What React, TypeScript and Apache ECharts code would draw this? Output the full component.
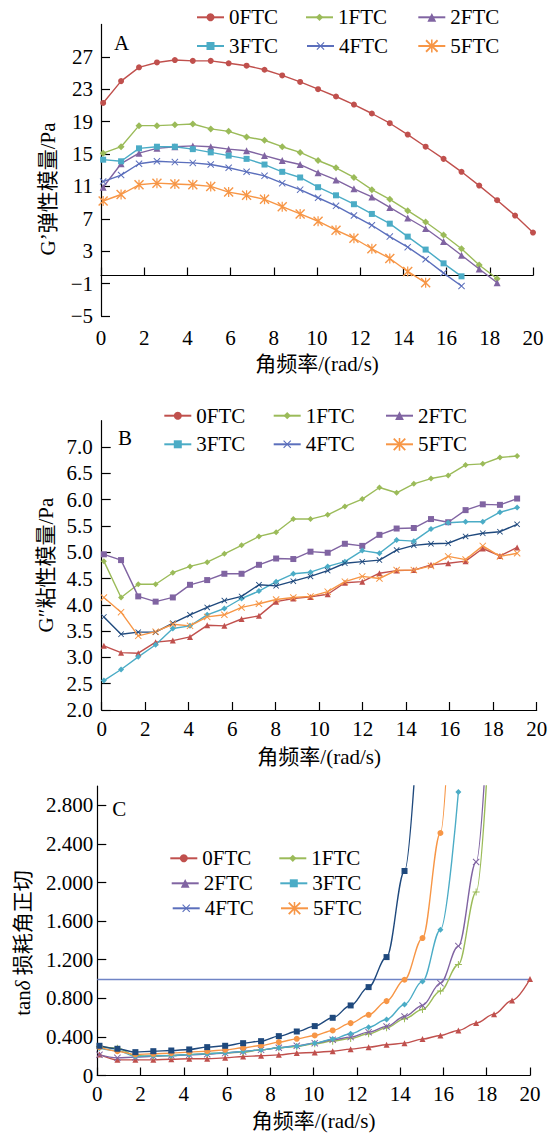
import React, { useEffect, useRef } from 'react';
import * as echarts from 'echarts';

// ---------- data ----------
// angular frequency (rad/s) for panels A and C
const FREQ_AC = [0.1, 0.93, 1.76, 2.59, 3.42, 4.25, 5.08, 5.91, 6.74, 7.57, 8.39, 9.22, 10.05, 10.88, 11.71, 12.54, 13.37, 14.2, 15.03, 15.86, 16.69, 17.51, 18.34, 19.17, 20.0];
// angular frequency (rad/s) for panel B
const FREQ_B = [0.1, 0.89, 1.68, 2.48, 3.27, 4.06, 4.85, 5.64, 6.43, 7.23, 8.02, 8.81, 9.6, 10.39, 11.18, 11.98, 12.77, 13.56, 14.35, 15.14, 15.93, 16.73, 17.52, 18.31, 19.1];

const NAMES = ['0FTC', '1FTC', '2FTC', '3FTC', '4FTC', '5FTC'];

// Panel A: G' elastic modulus (Pa)
const A_0FTC = [21.3, 24.0, 25.7, 26.3, 26.6, 26.5, 26.5, 26.2, 25.9, 25.4, 24.7, 23.9, 23.0, 22.1, 21.1, 20.0, 18.8, 17.4, 15.9, 14.4, 12.8, 11.1, 9.3, 7.4, 5.3];
const A_1FTC = [15.1, 15.9, 18.5, 18.5, 18.6, 18.7, 18.1, 17.8, 17.1, 16.7, 15.9, 15.2, 14.2, 13.3, 12.1, 10.6, 9.4, 8.0, 6.6, 5.0, 3.3, 1.3, -0.4];
const A_2FTC = [10.9, 13.8, 15.1, 15.7, 15.9, 16.0, 15.9, 15.6, 15.4, 14.8, 14.2, 13.7, 12.7, 11.8, 10.7, 9.7, 8.4, 7.1, 5.8, 4.2, 2.5, 0.8, -0.9];
const A_3FTC = [14.3, 14.1, 15.7, 15.9, 15.9, 15.6, 15.2, 14.8, 14.4, 13.7, 12.8, 12.1, 10.9, 9.9, 8.8, 7.6, 6.4, 4.8, 3.2, 1.5, -0.1];
const A_4FTC = [11.6, 12.4, 13.8, 14.1, 14.0, 13.9, 13.7, 13.3, 12.8, 12.3, 11.4, 10.6, 9.6, 8.6, 7.4, 6.2, 4.8, 3.5, 2.0, 0.3, -1.3];
const A_5FTC = [9.2, 10.0, 11.2, 11.4, 11.3, 11.2, 11.0, 10.3, 9.9, 9.4, 8.5, 7.6, 6.7, 5.6, 4.6, 3.3, 2.1, 0.5, -0.9];

// Panel B: G'' viscous modulus (Pa)
const B_0FTC = [3.22, 3.09, 3.08, 3.29, 3.32, 3.39, 3.61, 3.6, 3.73, 3.79, 4.06, 4.12, 4.15, 4.2, 4.42, 4.44, 4.6, 4.65, 4.66, 4.76, 4.79, 4.83, 5.07, 4.93, 5.09];
const B_1FTC = [4.83, 4.14, 4.39, 4.39, 4.61, 4.73, 4.81, 4.97, 5.13, 5.3, 5.38, 5.63, 5.63, 5.71, 5.87, 6.01, 6.23, 6.13, 6.3, 6.4, 6.46, 6.66, 6.68, 6.8, 6.83];
const B_2FTC = [4.96, 4.85, 4.16, 4.06, 4.14, 4.38, 4.47, 4.59, 4.59, 4.76, 4.88, 4.87, 5.01, 4.99, 5.16, 5.12, 5.33, 5.45, 5.46, 5.63, 5.57, 5.8, 5.91, 5.9, 6.02];
const B_3FTC = [2.56, 2.77, 3.01, 3.24, 3.55, 3.6, 3.81, 3.93, 4.12, 4.26, 4.44, 4.59, 4.62, 4.73, 4.82, 5.03, 4.98, 5.23, 5.21, 5.44, 5.56, 5.58, 5.58, 5.76, 5.85];
const B_4FTC = [3.77, 3.44, 3.48, 3.48, 3.65, 3.81, 3.95, 4.08, 4.16, 4.38, 4.36, 4.45, 4.54, 4.65, 4.79, 4.82, 4.85, 5.04, 5.13, 5.16, 5.17, 5.3, 5.36, 5.39, 5.53];
const B_5FTC = [4.14, 3.86, 3.41, 3.49, 3.63, 3.6, 3.77, 3.81, 3.95, 4.02, 4.1, 4.14, 4.16, 4.25, 4.44, 4.54, 4.5, 4.66, 4.66, 4.74, 4.92, 4.86, 5.12, 4.92, 4.98];

// Panel C: tan delta (last values of the steep curves lie above the plot top)
const C_RED = [0.218, 0.162, 0.162, 0.162, 0.169, 0.173, 0.173, 0.183, 0.197, 0.204, 0.214, 0.232, 0.239, 0.252, 0.273, 0.294, 0.318, 0.335, 0.377, 0.415, 0.467, 0.543, 0.636, 0.778, 1.0];
const C_NAVY = [0.308, 0.277, 0.242, 0.252, 0.259, 0.27, 0.294, 0.308, 0.335, 0.356, 0.408, 0.456, 0.512, 0.598, 0.726, 0.916, 1.227, 2.119, 4.5];
const C_ORANGE = [0.294, 0.252, 0.218, 0.225, 0.232, 0.242, 0.252, 0.266, 0.287, 0.311, 0.346, 0.38, 0.415, 0.467, 0.543, 0.629, 0.771, 0.992, 1.424, 2.513, 6.0];
const C_LBLUE = [0.283, 0.259, 0.197, 0.204, 0.207, 0.218, 0.225, 0.235, 0.249, 0.266, 0.287, 0.304, 0.335, 0.377, 0.432, 0.501, 0.581, 0.736, 0.975, 1.511, 2.938];
const C_PURPLE = [0.214, 0.183, 0.19, 0.2, 0.207, 0.214, 0.221, 0.232, 0.249, 0.266, 0.287, 0.308, 0.335, 0.37, 0.398, 0.449, 0.508, 0.612, 0.726, 0.957, 1.341, 2.212, 5.0];
const C_GREEN = [0.301, 0.283, 0.207, 0.2, 0.207, 0.218, 0.225, 0.235, 0.242, 0.266, 0.287, 0.301, 0.328, 0.356, 0.384, 0.432, 0.494, 0.588, 0.684, 0.875, 1.151, 1.901, 4.5];
const C_REF = 1.0;

// ---------- styles ----------
const FONT = 'Liberation Serif, Times New Roman, Noto Sans CJK SC, serif';
const RED = '#c0504d';
const GREEN = '#9bbb59';
const PURPLE = '#8064a2';
const LBLUE = '#4bacc6';
const BLUE = '#5b6fbc';
const ORANGE = '#f79646';
const NAVY = '#1f497d';
const REFLINE = '#6f84c5';

const X_SYM = 'path://M1,0 L5,4 L9,0 L10,1 L6,5 L10,9 L9,10 L5,6 L1,10 L0,9 L4,5 L0,1 Z';
const STAR_SYM = 'path://M1,0 L5,4 L9,0 L10,1 L6,5 L10,9 L9,10 L5,6 L1,10 L0,9 L4,5 L0,1 Z M4.4,0 L5.6,0 L5.6,10 L4.4,10 Z';
const PLUS_SYM = 'path://M4.3,0 L5.7,0 L5.7,4.3 L10,4.3 L10,5.7 L5.7,5.7 L5.7,10 L4.3,10 L4.3,5.7 L0,5.7 L0,4.3 L4.3,4.3 Z';

const zip = (xs: number[], ys: number[]) => ys.map((y, i) => [xs[i], y]);

function lineSeries(name: string, panel: number, xs: number[], ys: number[], color: string, symbol: string, size: number, extra: any = {}) {
  return {
    type: 'line',
    name,
    xAxisIndex: panel,
    yAxisIndex: panel,
    data: zip(xs, ys),
    symbol,
    symbolSize: size,
    showSymbol: true,
    clip: true,
    lineStyle: { color, width: 1.4 },
    itemStyle: { color },
    emphasis: { disabled: true },
    ...extra,
  };
}

function xAxisFor(gridIndex: number, labelMargin: number, nameGap: number) {
  return {
    type: 'value',
    gridIndex,
    min: 0,
    max: 20,
    interval: 2,
    name: '角频率/(rad/s)',
    nameLocation: 'middle',
    nameGap,
    nameTextStyle: { fontSize: 21, fontFamily: FONT, color: '#000' },
    axisLine: { show: true, lineStyle: { color: '#000', width: 1.2 } },
    axisTick: { show: true, inside: true, length: 8, lineStyle: { color: '#000', width: 1.2 } },
    axisLabel: { show: true, fontSize: 21, fontFamily: FONT, color: '#000', margin: labelMargin },
    splitLine: { show: false },
  };
}

function yAxisFor(gridIndex: number, min: number, max: number, interval: number, labelMargin: number, formatter: (v: number) => string) {
  return {
    type: 'value',
    gridIndex,
    min,
    max,
    interval,
    axisLine: { show: true, lineStyle: { color: '#000', width: 1.2 } },
    axisTick: { show: true, inside: true, length: 9, lineStyle: { color: '#000', width: 1.2 } },
    axisLabel: { show: true, fontSize: 21, fontFamily: FONT, color: '#000', margin: labelMargin, formatter, showMaxLabel: false },
    splitLine: { show: false },
  };
}

// legend layout: [name, left, top, itemHeight]
const LEGEND_A: [string, number, number, number][] = [
  ['0FTC', 196, 6.8, 10], ['1FTC', 305, 6.8, 9], ['2FTC', 417.3, 6.8, 11],
  ['3FTC', 196, 35.5, 10], ['4FTC', 306, 35.5, 10], ['5FTC', 417.3, 35.5, 16],
];
const LEGEND_B: [string, number, number, number][] = [
  ['0FTC', 163.3, 405.2, 10], ['1FTC', 272.7, 405.2, 9], ['2FTC', 385, 405.2, 11],
  ['3FTC', 163.3, 433.8, 10], ['4FTC', 272.7, 433.8, 10], ['5FTC', 385, 433.8, 16],
];
const LEGEND_C: [string, number, number, number][] = [
  ['0FTC', 169.3, 847.8, 10], ['1FTC', 278.3, 847.8, 9],
  ['2FTC', 170.7, 872.8, 11], ['3FTC', 279.3, 872.8, 10],
  ['4FTC', 171.7, 897.8, 10], ['5FTC', 280, 897.8, 16],
];

function legends() {
  const all = [...LEGEND_A, ...LEGEND_B, ...LEGEND_C];
  return all.map(([name, left, top, h]) => ({
    show: true,
    data: [name],
    left,
    top,
    orient: 'horizontal',
    itemWidth: 27,
    itemHeight: h,
    itemGap: 0,
    padding: 0,
    selectedMode: false,
    textStyle: { fontSize: 21, fontFamily: FONT, color: '#000' },
  }));
}

function buildOption(): any {
  const smooth = { smooth: 0.35, smoothMonotone: 'x' };
  const series: any[] = [
    // Panel A
    lineSeries(NAMES[0], 0, FREQ_AC, A_0FTC, RED, 'circle', 6),
    lineSeries(NAMES[1], 0, FREQ_AC, A_1FTC, GREEN, 'diamond', 7),
    lineSeries(NAMES[2], 0, FREQ_AC, A_2FTC, PURPLE, 'triangle', 7),
    lineSeries(NAMES[3], 0, FREQ_AC, A_3FTC, LBLUE, 'rect', 6),
    lineSeries(NAMES[4], 0, FREQ_AC, A_4FTC, BLUE, X_SYM, 7),
    lineSeries(NAMES[5], 0, FREQ_AC, A_5FTC, ORANGE, STAR_SYM, 10),
    // Panel B
    lineSeries('B0', 1, FREQ_B, B_0FTC, RED, 'triangle', 6),
    lineSeries('B1', 1, FREQ_B, B_1FTC, GREEN, 'diamond', 6),
    lineSeries('B2', 1, FREQ_B, B_2FTC, PURPLE, 'rect', 6),
    lineSeries('B3', 1, FREQ_B, B_3FTC, LBLUE, 'diamond', 6),
    lineSeries('B4', 1, FREQ_B, B_4FTC, NAVY, X_SYM, 6),
    lineSeries('B5', 1, FREQ_B, B_5FTC, ORANGE, X_SYM, 7),
    // Panel C
    lineSeries('C0', 2, FREQ_AC, C_RED, RED, 'triangle', 6, {
      ...smooth,
      markLine: {
        silent: true,
        symbol: 'none',
        label: { show: false },
        lineStyle: { color: REFLINE, width: 1.3, type: 'solid' },
        data: [{ yAxis: C_REF }],
        z: 1,
      },
    }),
    lineSeries('C1', 2, FREQ_AC, C_GREEN, GREEN, PLUS_SYM, 7, smooth),
    lineSeries('C2', 2, FREQ_AC, C_PURPLE, PURPLE, X_SYM, 7, smooth),
    lineSeries('C3', 2, FREQ_AC, C_LBLUE, LBLUE, 'diamond', 6, smooth),
    lineSeries('C5', 2, FREQ_AC, C_ORANGE, ORANGE, 'circle', 6, smooth),
    lineSeries('C4', 2, FREQ_AC, C_NAVY, NAVY, 'rect', 6, smooth),
  ];

  const textStyle = (t: string) => ({ text: t, fontSize: 21, fontFamily: FONT, fill: '#000', align: 'center', verticalAlign: 'middle', textAlign: 'center', textVerticalAlign: 'middle' });

  return {
    animation: false,
    backgroundColor: '#fff',
    textStyle: { fontFamily: FONT },
    grid: [
      { left: 101, top: 24.4, width: 432, height: 291.6 },
      { left: 101.7, top: 420.7, width: 435, height: 289.3 },
      { left: 97.3, top: 786, width: 432.7, height: 289.5 },
    ],
    xAxis: [xAxisFor(0, 11, 37), xAxisFor(1, 8.5, 36), xAxisFor(2, 8, 35)],
    yAxis: [
      yAxisFor(0, -5, 31, 4, 8, (v: number) => (v < 0 ? '\u2212' + Math.abs(v) : String(v))),
      yAxisFor(1, 2, 7.5, 0.5, 9, (v: number) => v.toFixed(1)),
      yAxisFor(2, 0, 3.0, 0.4, 4, (v: number) => (Math.abs(v) < 1e-9 ? '0' : v.toFixed(3))),
    ],
    legend: legends(),
    series,
    graphic: [
      { type: 'text', x: 121.5, y: 43.3, style: textStyle('A') },
      { type: 'text', x: 125, y: 438.3, style: textStyle('B') },
      { type: 'text', x: 119.3, y: 809.3, style: textStyle('C') },
      { type: 'text', x: 47.5, y: 189, rotation: Math.PI / 2, style: textStyle('G\u2019弹性模量/Pa') },
      { type: 'text', x: 45.8, y: 565, rotation: Math.PI / 2, style: textStyle('G\u2033粘性模量/Pa') },
      {
        type: 'text', x: 23, y: 943, rotation: Math.PI / 2,
        style: {
          text: '{a|tan}{b|δ}{a| 损耗角正切}',
          align: 'center', verticalAlign: 'middle', textAlign: 'center', textVerticalAlign: 'middle',
          fontSize: 21, fontFamily: FONT, fill: '#000',
          rich: {
            a: { fontSize: 21, fontFamily: FONT, color: '#000' },
            b: { fontSize: 21, fontFamily: FONT, color: '#000', fontStyle: 'italic' },
          },
        },
      },
    ],
  };
}

export default function App() {
  const ref = useRef<HTMLDivElement>(null);
  useEffect(() => {
    const chart = echarts.init(ref.current as HTMLDivElement, undefined, { renderer: 'svg' });
    chart.setOption(buildOption());
    return () => chart.dispose();
  }, []);
  return (
    <div
      ref={ref}
      style={{ position: 'absolute', left: 0, top: 0, width: 552, height: 1135, background: '#fff' }}
    />
  );
}
